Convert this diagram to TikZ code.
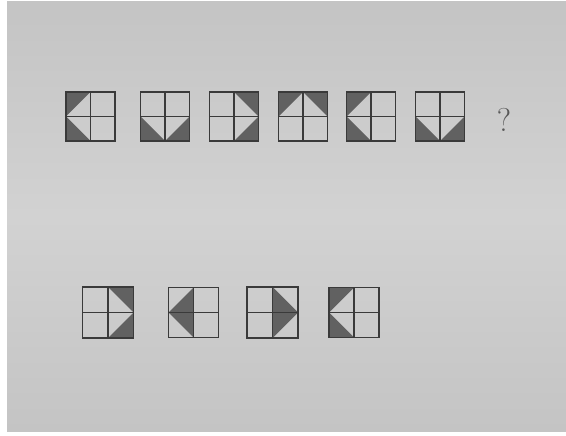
\documentclass[tikz,border=0pt]{standalone}
\usetikzlibrary{calc}
\definecolor{paper}{HTML}{C4C4C4}
\definecolor{paperlight}{HTML}{D2D2D2}
\definecolor{ink}{HTML}{3A3A3A}
\definecolor{shade}{HTML}{616161}
\tikzset{
  cell/.style={draw=none, minimum size=#1, inner sep=0pt, outer sep=0pt},
  cell/.default=49pt,
  dark/.style={fill=shade, draw=none},
  grid/.style={draw=ink, line width=1.3pt},
  qmark/.style={text=ink!85, font=\fontsize{33}{36}\selectfont, inner sep=0pt}
}
% patterns
\newcommand{\pLW}[1]{\fill[dark] (#1.north west)--(#1.north)--(#1.west)--cycle (#1.south west)--(#1.south)--(#1.west)--cycle;}
\newcommand{\pBW}[1]{\fill[dark] (#1.west)--(#1.south west)--(#1.south)--cycle (#1.east)--(#1.south east)--(#1.south)--cycle;}
\newcommand{\pRW}[1]{\fill[dark] (#1.north)--(#1.north east)--(#1.east)--cycle (#1.south)--(#1.south east)--(#1.east)--cycle;}
\newcommand{\pTW}[1]{\fill[dark] (#1.west)--(#1.north west)--(#1.north)--cycle (#1.east)--(#1.north east)--(#1.north)--cycle;}
\newcommand{\pLD}[1]{\fill[dark] (#1.north)--(#1.west)--(#1.south)--cycle;}
\newcommand{\pRD}[1]{\fill[dark] (#1.north)--(#1.east)--(#1.south)--cycle;}
\newcommand{\grd}[1]{\draw[grid] (#1.north west) rectangle (#1.south east) (#1.north)--(#1.south) (#1.west)--(#1.east);}
\begin{document}
\begin{tikzpicture}[x=1pt,y=-1pt]
\useasboundingbox (0,0) rectangle (566,436);
\fill[white] (0,0) rectangle (566,436);
\shade[top color=paper, bottom color=paper, middle color=paperlight] (7,2) rectangle (566,431);
% top row
\node[cell] (t1) at (90.5,116.5) {};
\node[cell] (t2) at (165,116.5) {};
\node[cell] (t3) at (234,116.5) {};
\node[cell] (t4) at (303,116.5) {};
\node[cell] (t5) at (371,116.5) {};
\node[cell] (t6) at (440,116.5) {};
\node[qmark] (q) at (504,120) {?};
% bottom row
\node[cell=51pt] (a) at (108,312.5) {};
\node[cell=50pt] (b) at (193.5,312.5) {};
\node[cell=51pt] (c) at (272.5,312.5) {};
\node[cell=50pt] (d) at (354,312.5) {};
\pLW{t1} \pBW{t2} \pRW{t3} \pTW{t4} \pLW{t5} \pBW{t6}
\pRW{a} \pLD{b} \pRD{c} \pLW{d}
\foreach \n in {t1,t2,t3,t4,t5,t6,a,b,c,d} {\grd{\n}}
\end{tikzpicture}
\end{document}
